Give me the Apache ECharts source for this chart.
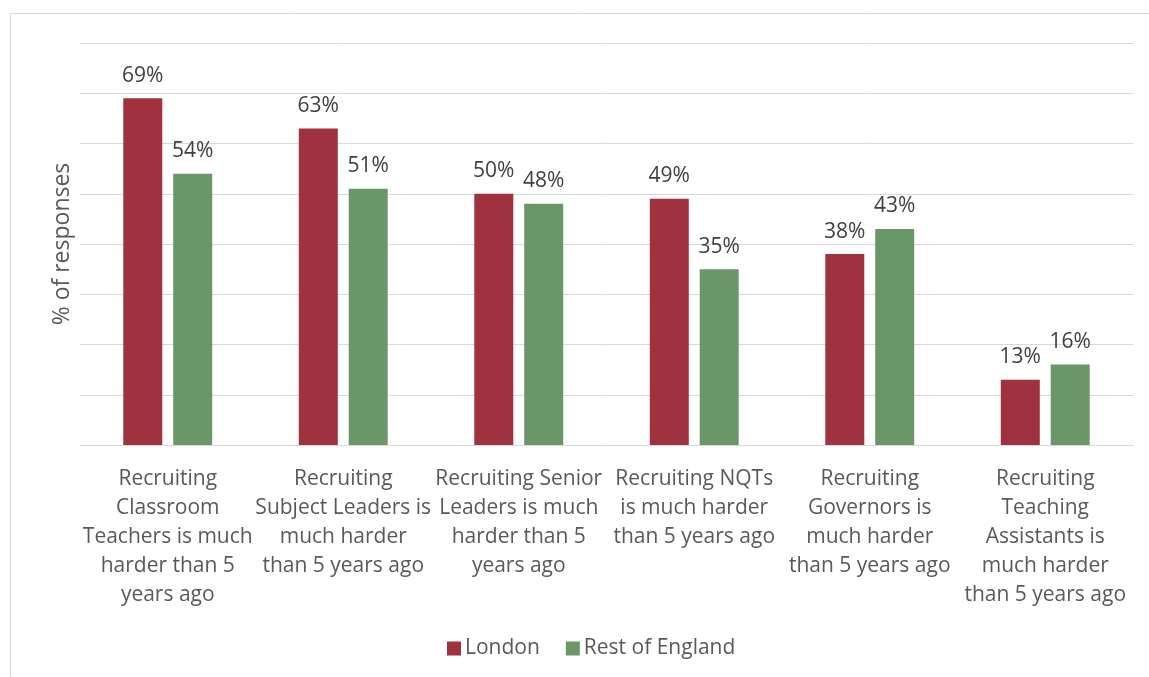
<!DOCTYPE html>
<html><head><meta charset="utf-8">
<script src="https://cdn.jsdelivr.net/npm/echarts@6/dist/echarts.min.js"></script>
<style>html,body{margin:0;padding:0;background:#fff}#c{width:1149px;height:677px}</style>
</head><body><div id="c"></div>
<script>
const categories = [
  "Recruiting\nClassroom\nTeachers is much\nharder than 5\nyears ago",
  "Recruiting\nSubject Leaders is\nmuch harder\nthan 5 years ago",
  "Recruiting Senior\nLeaders is much\nharder than 5\nyears ago",
  "Recruiting NQTs\nis much harder\nthan 5 years ago",
  "Recruiting\nGovernors is\nmuch harder\nthan 5 years ago",
  "Recruiting\nTeaching\nAssistants is\nmuch harder\nthan 5 years ago"
];
const london = [69, 63, 50, 49, 38, 13];
const restOfEngland = [54, 51, 48, 35, 43, 16];
const seriesNames = ["London", "Rest of England"];

const FONT = "'Open Sans', Lato, sans-serif";
const chart = echarts.init(document.getElementById('c'), null, {renderer: 'canvas'});
const lbl = {show: true, position: 'top', distance: 12, formatter: '{c}%', color: '#404040', fontSize: 21, fontFamily: FONT};
chart.setOption({
  animation: false,
  textStyle: {fontFamily: FONT},
  graphic: [{type: 'rect', shape: {x: 10.5, y: 13.5, width: 1160, height: 700}, style: {fill: 'none', stroke: '#d9d9d9', lineWidth: 1}, silent: true}],
  grid: {left: 80, right: 16, top: 43, bottom: 232, containLabel: false},
  legend: {
    bottom: 13, left: 442, itemWidth: 14, itemHeight: 14, itemGap: 26, icon: 'rect',
    textStyle: {color: '#595959', fontSize: 21, fontFamily: FONT, padding: [0, 0, 0, -1]},
    data: seriesNames
  },
  xAxis: {
    type: 'category', data: categories,
    axisLine: {lineStyle: {color: '#d9d9d9', width: 1}},
    axisTick: {show: false},
    axisLabel: {color: '#595959', fontSize: 21, lineHeight: 29, margin: 20, interval: 0, fontFamily: FONT}
  },
  yAxis: {
    type: 'value', min: 0, max: 80, interval: 10,
    name: '% of responses', nameLocation: 'middle', nameGap: 6, nameRotate: 90,
    nameTextStyle: {color: '#595959', fontSize: 23, fontFamily: FONT},
    axisLabel: {show: false}, axisLine: {show: false}, axisTick: {show: false},
    splitLine: {lineStyle: {color: '#d9d9d9', width: 1}}
  },
  series: [
    {name: seriesNames[0], type: 'bar', data: london, barWidth: 39, barGap: '28%', itemStyle: {color: '#A0323F'}, label: lbl},
    {name: seriesNames[1], type: 'bar', data: restOfEngland, barWidth: 39, itemStyle: {color: '#6A9669'}, label: lbl}
  ]
});
</script></body></html>
